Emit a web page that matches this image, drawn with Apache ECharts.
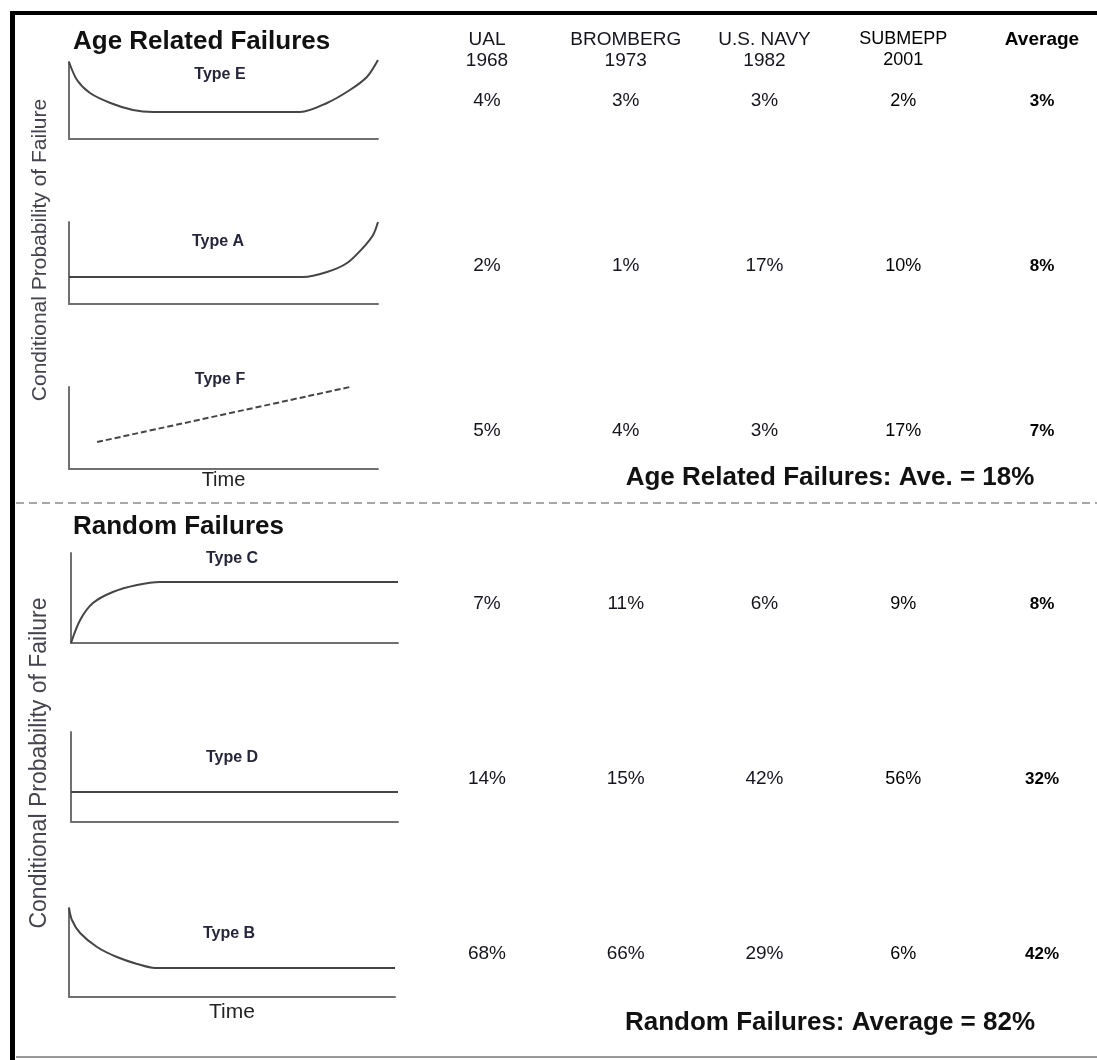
<!DOCTYPE html>
<html><head><meta charset="utf-8">
<script src="https://cdn.jsdelivr.net/npm/echarts@6/dist/echarts.min.js"></script>
<style>html,body{margin:0;padding:0;background:#fff}#chart{width:1097px;height:1060px}</style>
</head><body><div id="chart"></div>
<script>
// ---------- data ----------
const failureTypes = ['Type E', 'Type A', 'Type F', 'Type C', 'Type D', 'Type B'];
const studies = ['UAL', 'BROMBERG', 'U.S. NAVY', 'SUBMEPP', 'Average'];
const studyYears = ['1968', '1973', '1982', '2001', ''];
const ualPct = [4, 2, 5, 7, 14, 68];
const brombergPct = [3, 1, 4, 11, 15, 66];
const navyPct = [3, 17, 3, 6, 42, 29];
const submeppPct = [2, 10, 17, 9, 56, 6];
const averagePct = [3, 8, 7, 8, 32, 42];
const ageRelatedAverage = 18;
const randomAverage = 82;
const sectionTitles = ['Age Related Failures', 'Random Failures'];
const yAxisTitle = 'Conditional Probability of Failure';
const timeLabel = 'Time';

// hazard curves: [time %, conditional probability %]
const curveTypeE = [[0,100],[2.6,76.6],[6.8,59.7],[13.4,46.8],[20.7,37.7],[27.2,35.1],[74.8,35.1],[83.5,46.8],[90.9,63.6],[96.4,80.5],[100,102.6]];
const curveTypeA = [[0,32.9],[75.7,32.9],[83.5,39],[90,50],[95.1,68.3],[98.4,84.1],[100,100]];
const curveTypeF = [[9.1,32.9],[90.9,100]];
const curveTypeC = [[0,0],[2.8,25.6],[6.7,44.4],[12.8,56.7],[20.2,64.4],[27.2,67.8],[100,67.8]];
const curveTypeD = [[0,33.3],[100,33.3]];
const curveTypeB = [[0,100],[0.9,86.5],[3.4,71.9],[8.6,56.2],[14.7,44.9],[20.9,37.1],[26.4,32.6],[100,32.6]];

// ---------- layout ----------
const FONT = "'Liberation Sans', Arial, sans-serif";
const curves = [curveTypeE, curveTypeA, curveTypeF, curveTypeC, curveTypeD, curveTypeB];
const panelBoxes = [
  {left: 69, top: 62, width: 309, height: 77},
  {left: 69, top: 222, width: 309, height: 82},
  {left: 69, top: 387, width: 309, height: 82},
  {left: 71, top: 553, width: 327, height: 90},
  {left: 71, top: 732, width: 327, height: 90},
  {left: 69, top: 908, width: 326, height: 89}
];
const panelLabelPos = [[220,75],[218,242],[220,380],[232,559],[232,758],[229,934]];
const tableBoxes = [
  {left: 487, top: 101, width: 555, height: 330},
  {left: 487, top: 604, width: 555, height: 350}
];
const columnValues = [ualPct, brombergPct, navyPct, submeppPct, averagePct];
const colLabelStyles = [
  {fontSize: 19, color: '#15151f'},
  {fontSize: 19, color: '#15151f'},
  {fontSize: 19, color: '#15151f'},
  {fontSize: 18, color: '#000'},
  {fontSize: 17, color: '#000', fontWeight: 'bold'}
];

const grid = [], xAxis = [], yAxis = [], series = [];
panelBoxes.forEach((b, i) => {
  grid.push(Object.assign({containLabel: false}, b));
  const axLine = {show: true, lineStyle: {color: '#707070', width: 2}};
  const xa = {type: 'value', gridIndex: i, min: 0, max: 100, axisLine: axLine, axisTick: {show: false}, axisLabel: {show: false}, splitLine: {show: false}};
  if (i === 2 || i === 5) {
    Object.assign(xa, {name: timeLabel, nameLocation: 'middle', nameGap: i === 2 ? 1 : 5,
      nameTextStyle: {fontSize: i === 2 ? 20 : 21, color: '#222', fontFamily: FONT}});
  }
  xAxis.push(xa);
  yAxis.push({type: 'value', gridIndex: i, min: 0, max: 100, axisLine: axLine, axisTick: {show: false}, axisLabel: {show: false}, splitLine: {show: false}});
  series.push({
    type: 'line', xAxisIndex: i, yAxisIndex: i, data: curves[i], showSymbol: false, symbol: 'none',
    smooth: 0.3, clip: false, silent: true,
    lineStyle: {color: '#454545', width: 2, type: i === 2 ? [6, 3] : 'solid'}
  });
});

tableBoxes.forEach((b, s) => {
  const gi = 6 + s;
  grid.push(b);
  const rows = failureTypes.slice(s * 3, s * 3 + 3);
  xAxis.push({
    type: 'category', gridIndex: gi, data: studies, boundaryGap: false,
    position: 'top', axisLine: {show: false}, axisTick: {show: false}, splitLine: {show: false},
    axisLabel: s === 0 ? {
      show: true, interval: 0, margin: 30,
      formatter: (v, i) => i === 4 ? '{avg|' + v + '}\n{sp| }' :
        (i === 3 ? '{hs|' + v + '}\n{hs|' + studyYears[i] + '}' : '{h|' + v + '}\n{h|' + studyYears[i] + '}'),
      rich: {
        h: {fontSize: 19, color: '#15151f', lineHeight: 21, fontFamily: FONT},
        hs: {fontSize: 18, color: '#000', lineHeight: 21, fontFamily: FONT},
        avg: {fontSize: 19, color: '#000', fontWeight: 'bold', lineHeight: 21, fontFamily: FONT},
        sp: {fontSize: 18, lineHeight: 21}
      }
    } : {show: false}
  });
  yAxis.push({type: 'category', gridIndex: gi, data: rows, inverse: true, boundaryGap: false,
    axisLine: {show: false}, axisTick: {show: false}, axisLabel: {show: false}, splitLine: {show: false}});
  studies.forEach((st, c) => {
    series.push({
      type: 'scatter', xAxisIndex: gi, yAxisIndex: gi, symbolSize: 1, silent: true,
      itemStyle: {color: '#ffffff', opacity: 1},
      data: rows.map((r, k) => [st, r, columnValues[c][s * 3 + k]]),
      label: Object.assign({show: true, position: 'inside', fontFamily: FONT, opacity: 1,
        textBorderWidth: 0, formatter: p => p.value[2] + '%'}, colLabelStyles[c])
    });
  });
});

const graphic = [
  {type: 'rect', shape: {x: 10, y: 11, width: 5, height: 1049}, style: {fill: '#000'}},
  {type: 'rect', shape: {x: 10, y: 11, width: 1087, height: 4}, style: {fill: '#000'}},
  {type: 'line', shape: {x1: 16, y1: 1057, x2: 1097, y2: 1057}, style: {stroke: '#9a9a9a', lineWidth: 2}},
  {type: 'line', shape: {x1: 16, y1: 503, x2: 1097, y2: 503}, style: {stroke: '#8a8a8a', lineWidth: 1.5, lineDash: [8, 5]}},
  {type: 'text', x: 73, y: 42, style: {text: sectionTitles[0], fontSize: 26, fontWeight: 'bold', fontFamily: FONT, fill: '#111', verticalAlign: 'middle'}},
  {type: 'text', x: 73, y: 527, style: {text: sectionTitles[1], fontSize: 26, fontWeight: 'bold', fontFamily: FONT, fill: '#111', verticalAlign: 'middle'}},
  {type: 'text', x: 830, y: 478, style: {text: 'Age Related Failures: Ave. = ' + ageRelatedAverage + '%', fontSize: 26, fontWeight: 'bold', fontFamily: FONT, fill: '#111', align: 'center', verticalAlign: 'middle'}},
  {type: 'text', x: 830, y: 1023, style: {text: 'Random Failures: Average = ' + randomAverage + '%', fontSize: 26, fontWeight: 'bold', fontFamily: FONT, fill: '#111', align: 'center', verticalAlign: 'middle'}},
  {type: 'text', x: 40, y: 250, rotation: Math.PI / 2, style: {text: yAxisTitle, fontSize: 21, fontFamily: FONT, fill: '#44444e', align: 'center', verticalAlign: 'middle'}},
  {type: 'text', x: 40, y: 763, rotation: Math.PI / 2, style: {text: yAxisTitle, fontSize: 23, fontFamily: FONT, fill: '#44444e', align: 'center', verticalAlign: 'middle'}}
];
failureTypes.forEach((t, i) => {
  graphic.push({type: 'text', x: panelLabelPos[i][0], y: panelLabelPos[i][1],
    style: {text: t, fontSize: 16, fontWeight: 'bold', fontFamily: FONT, fill: '#26263a', align: 'center', verticalAlign: 'middle'}});
});

const chart = echarts.init(document.getElementById('chart'), null, {renderer: 'canvas'});
chart.setOption({
  animation: false, backgroundColor: '#fff',
  grid, xAxis, yAxis, series, graphic
});
</script></body></html>
